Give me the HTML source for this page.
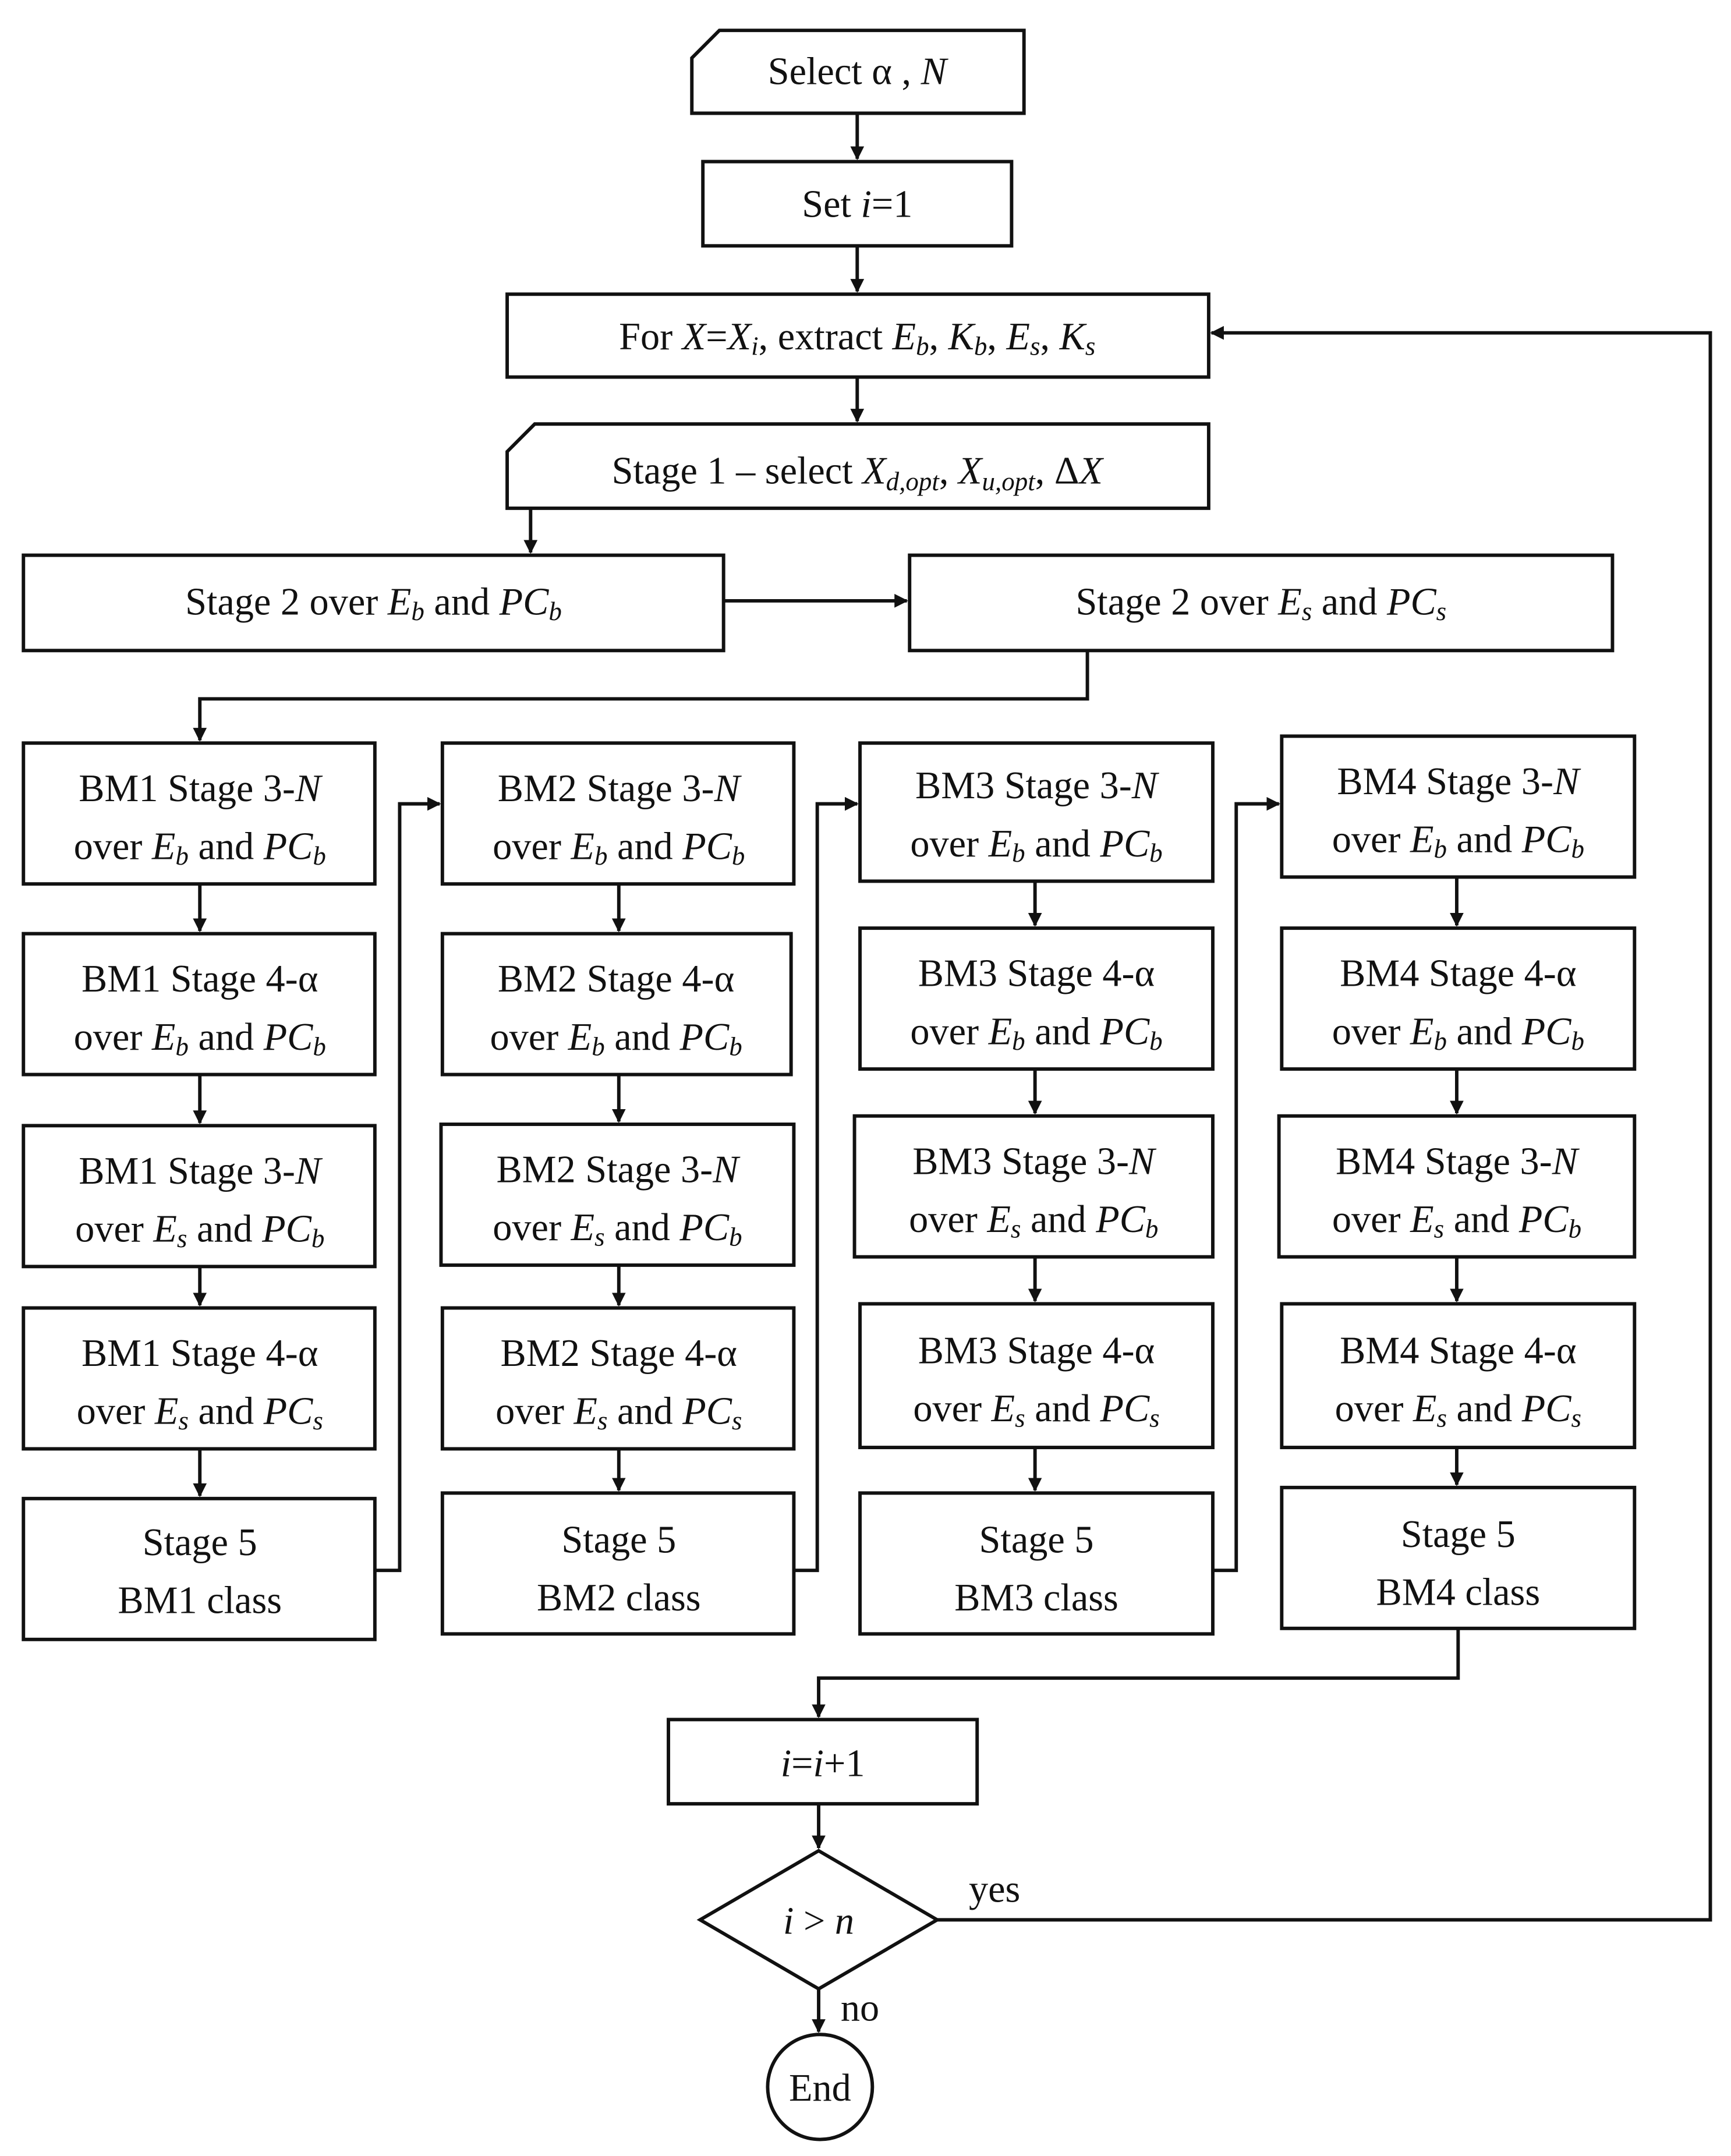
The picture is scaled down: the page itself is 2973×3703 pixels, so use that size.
<!DOCTYPE html>
<html><head><meta charset="utf-8"><style>
html,body{margin:0;padding:0;background:#fff;}
svg{display:block;}
text{font-family:"Liberation Serif",serif;font-size:28px;fill:#111;}
.i{font-style:italic;}
.s{font-size:19px;font-style:italic;}
</style></head><body>
<svg width="2973" height="3703" viewBox="0 0 1256 1561" preserveAspectRatio="none" xmlns="http://www.w3.org/2000/svg">
<defs><marker id="a" markerWidth="10" markerHeight="10" refX="9" refY="5" orient="auto" markerUnits="userSpaceOnUse"><path d="M0,0 L10,5 L0,10 z" fill="#111"/></marker></defs>
<g fill="none" stroke="#111" stroke-width="2.5">
<path d="M522,22 H743 V82 H502 V42 Z"/>
<rect x="510" y="117" width="224" height="61"/>
<rect x="368" y="213" width="509" height="60"/>
<path d="M388,307 H877 V368 H368 V327 Z"/>
<rect x="17" y="402" width="508" height="69"/>
<rect x="660" y="402" width="510" height="69"/>
<rect x="17" y="538" width="255" height="102"/>
<rect x="17" y="676" width="255" height="102"/>
<rect x="17" y="815" width="255" height="102"/>
<rect x="17" y="947" width="255" height="102"/>
<rect x="17" y="1085" width="255" height="102"/>
<rect x="321" y="538" width="255" height="102"/>
<rect x="321" y="676" width="253" height="102"/>
<rect x="320" y="814" width="256" height="102"/>
<rect x="321" y="947" width="255" height="102"/>
<rect x="321" y="1081" width="255" height="102"/>
<rect x="624" y="538" width="256" height="100"/>
<rect x="624" y="672" width="256" height="102"/>
<rect x="620" y="808" width="260" height="102"/>
<rect x="624" y="944" width="256" height="104"/>
<rect x="624" y="1081" width="256" height="102"/>
<rect x="930" y="533" width="256" height="102"/>
<rect x="930" y="672" width="256" height="102"/>
<rect x="928" y="808" width="258" height="102"/>
<rect x="930" y="944" width="256" height="104"/>
<rect x="930" y="1077" width="256" height="102"/>
<rect x="485" y="1245" width="224" height="61"/>
<path d="M508,1390 L594,1340 L680,1390 L594,1440 Z"/>
<circle cx="595" cy="1511" r="38"/>
</g>
<g fill="none" stroke="#111" stroke-width="2.5" marker-end="url(#a)">
<path d="M622,82 V115"/>
<path d="M622,178 V211"/>
<path d="M622,273 V305"/>
<path d="M385,368 V400"/>
<path d="M525,435 H658"/>
<path d="M789,471 V506 H145 V536"/>
<path d="M145,640 V674"/><path d="M145,778 V813"/><path d="M145,917 V945"/><path d="M145,1049 V1083"/>
<path d="M449,640 V674"/><path d="M449,778 V812"/><path d="M449,916 V945"/><path d="M449,1049 V1079"/>
<path d="M751,638 V670"/><path d="M751,774 V806"/><path d="M751,910 V942"/><path d="M751,1048 V1079"/>
<path d="M1057,635 V670"/><path d="M1057,774 V806"/><path d="M1057,910 V942"/><path d="M1057,1048 V1075"/>
<path d="M272,1137 H290 V582 H319"/>
<path d="M576,1137 H593 V582 H622"/>
<path d="M880,1137 H897 V582 H928"/>
<path d="M1058,1179 V1215 H594 V1243"/>
<path d="M594,1306 V1338"/>
<path d="M680,1390 H1241 V241 H879"/>
<path d="M594,1440 V1471"/>
</g>
<g text-anchor="middle">
<text x="622" y="61">Select α , <tspan class="i">N</tspan></text>
<text x="622" y="157">Set <tspan class="i">i</tspan>=1</text>
<text x="622" y="253">For <tspan class="i">X</tspan>=<tspan class="i">X<tspan class="s" dy="4">i</tspan></tspan><tspan dy="-4">, extract </tspan><tspan class="i">E</tspan><tspan class="s" dy="4">b</tspan><tspan dy="-4">, </tspan><tspan class="i">K</tspan><tspan class="s" dy="4">b</tspan><tspan dy="-4">, </tspan><tspan class="i">E</tspan><tspan class="s" dy="4">s</tspan><tspan dy="-4">, </tspan><tspan class="i">K</tspan><tspan class="s" dy="4">s</tspan></text>
<text x="622" y="350">Stage 1 – select <tspan class="i">X</tspan><tspan class="s" dy="5">d,opt</tspan><tspan dy="-5">, </tspan><tspan class="i">X</tspan><tspan class="s" dy="5">u,opt</tspan><tspan dy="-5">, Δ</tspan><tspan class="i">X</tspan></text>
<text x="271" y="445">Stage 2 over <tspan class="i">E</tspan><tspan class="s" dy="4">b</tspan><tspan dy="-4"> and </tspan><tspan class="i">PC</tspan><tspan class="s" dy="4">b</tspan></text>
<text x="915" y="445">Stage 2 over <tspan class="i">E</tspan><tspan class="s" dy="4">s</tspan><tspan dy="-4"> and </tspan><tspan class="i">PC</tspan><tspan class="s" dy="4">s</tspan></text>
</g>
<g text-anchor="middle" id="cols">
<!-- col1 -->
<text x="145" y="580">BM1 Stage 3-<tspan class="i">N</tspan></text>
<text x="145" y="622">over <tspan class="i">E</tspan><tspan class="s" dy="4">b</tspan><tspan dy="-4"> and </tspan><tspan class="i">PC</tspan><tspan class="s" dy="4">b</tspan></text>
<text x="145" y="718">BM1 Stage 4-α</text>
<text x="145" y="760">over <tspan class="i">E</tspan><tspan class="s" dy="4">b</tspan><tspan dy="-4"> and </tspan><tspan class="i">PC</tspan><tspan class="s" dy="4">b</tspan></text>
<text x="145" y="857">BM1 Stage 3-<tspan class="i">N</tspan></text>
<text x="145" y="899">over <tspan class="i">E</tspan><tspan class="s" dy="4">s</tspan><tspan dy="-4"> and </tspan><tspan class="i">PC</tspan><tspan class="s" dy="4">b</tspan></text>
<text x="145" y="989">BM1 Stage 4-α</text>
<text x="145" y="1031">over <tspan class="i">E</tspan><tspan class="s" dy="4">s</tspan><tspan dy="-4"> and </tspan><tspan class="i">PC</tspan><tspan class="s" dy="4">s</tspan></text>
<text x="145" y="1126">Stage 5</text>
<text x="145" y="1168">BM1 class</text>
<!-- col2 -->
<text x="449" y="580">BM2 Stage 3-<tspan class="i">N</tspan></text>
<text x="449" y="622">over <tspan class="i">E</tspan><tspan class="s" dy="4">b</tspan><tspan dy="-4"> and </tspan><tspan class="i">PC</tspan><tspan class="s" dy="4">b</tspan></text>
<text x="447" y="718">BM2 Stage 4-α</text>
<text x="447" y="760">over <tspan class="i">E</tspan><tspan class="s" dy="4">b</tspan><tspan dy="-4"> and </tspan><tspan class="i">PC</tspan><tspan class="s" dy="4">b</tspan></text>
<text x="448" y="856">BM2 Stage 3-<tspan class="i">N</tspan></text>
<text x="448" y="898">over <tspan class="i">E</tspan><tspan class="s" dy="4">s</tspan><tspan dy="-4"> and </tspan><tspan class="i">PC</tspan><tspan class="s" dy="4">b</tspan></text>
<text x="449" y="989">BM2 Stage 4-α</text>
<text x="449" y="1031">over <tspan class="i">E</tspan><tspan class="s" dy="4">s</tspan><tspan dy="-4"> and </tspan><tspan class="i">PC</tspan><tspan class="s" dy="4">s</tspan></text>
<text x="449" y="1124">Stage 5</text>
<text x="449" y="1166">BM2 class</text>
<!-- col3 -->
<text x="752" y="578">BM3 Stage 3-<tspan class="i">N</tspan></text>
<text x="752" y="620">over <tspan class="i">E</tspan><tspan class="s" dy="4">b</tspan><tspan dy="-4"> and </tspan><tspan class="i">PC</tspan><tspan class="s" dy="4">b</tspan></text>
<text x="752" y="714">BM3 Stage 4-α</text>
<text x="752" y="756">over <tspan class="i">E</tspan><tspan class="s" dy="4">b</tspan><tspan dy="-4"> and </tspan><tspan class="i">PC</tspan><tspan class="s" dy="4">b</tspan></text>
<text x="750" y="850">BM3 Stage 3-<tspan class="i">N</tspan></text>
<text x="750" y="892">over <tspan class="i">E</tspan><tspan class="s" dy="4">s</tspan><tspan dy="-4"> and </tspan><tspan class="i">PC</tspan><tspan class="s" dy="4">b</tspan></text>
<text x="752" y="987">BM3 Stage 4-α</text>
<text x="752" y="1029">over <tspan class="i">E</tspan><tspan class="s" dy="4">s</tspan><tspan dy="-4"> and </tspan><tspan class="i">PC</tspan><tspan class="s" dy="4">s</tspan></text>
<text x="752" y="1124">Stage 5</text>
<text x="752" y="1166">BM3 class</text>
<!-- col4 -->
<text x="1058" y="575">BM4 Stage 3-<tspan class="i">N</tspan></text>
<text x="1058" y="617">over <tspan class="i">E</tspan><tspan class="s" dy="4">b</tspan><tspan dy="-4"> and </tspan><tspan class="i">PC</tspan><tspan class="s" dy="4">b</tspan></text>
<text x="1058" y="714">BM4 Stage 4-α</text>
<text x="1058" y="756">over <tspan class="i">E</tspan><tspan class="s" dy="4">b</tspan><tspan dy="-4"> and </tspan><tspan class="i">PC</tspan><tspan class="s" dy="4">b</tspan></text>
<text x="1057" y="850">BM4 Stage 3-<tspan class="i">N</tspan></text>
<text x="1057" y="892">over <tspan class="i">E</tspan><tspan class="s" dy="4">s</tspan><tspan dy="-4"> and </tspan><tspan class="i">PC</tspan><tspan class="s" dy="4">b</tspan></text>
<text x="1058" y="987">BM4 Stage 4-α</text>
<text x="1058" y="1029">over <tspan class="i">E</tspan><tspan class="s" dy="4">s</tspan><tspan dy="-4"> and </tspan><tspan class="i">PC</tspan><tspan class="s" dy="4">s</tspan></text>
<text x="1058" y="1120">Stage 5</text>
<text x="1058" y="1162">BM4 class</text>
</g>
<g text-anchor="middle">
<text x="597" y="1286"><tspan class="i">i</tspan>=<tspan class="i">i</tspan>+1</text>
<text x="594" y="1400"><tspan class="i">i</tspan> &gt; <tspan class="i">n</tspan></text>
<text x="595" y="1521">End</text>
</g>
<text x="703" y="1377">yes</text>
<text x="610" y="1463">no</text>
</svg>
</body></html>
